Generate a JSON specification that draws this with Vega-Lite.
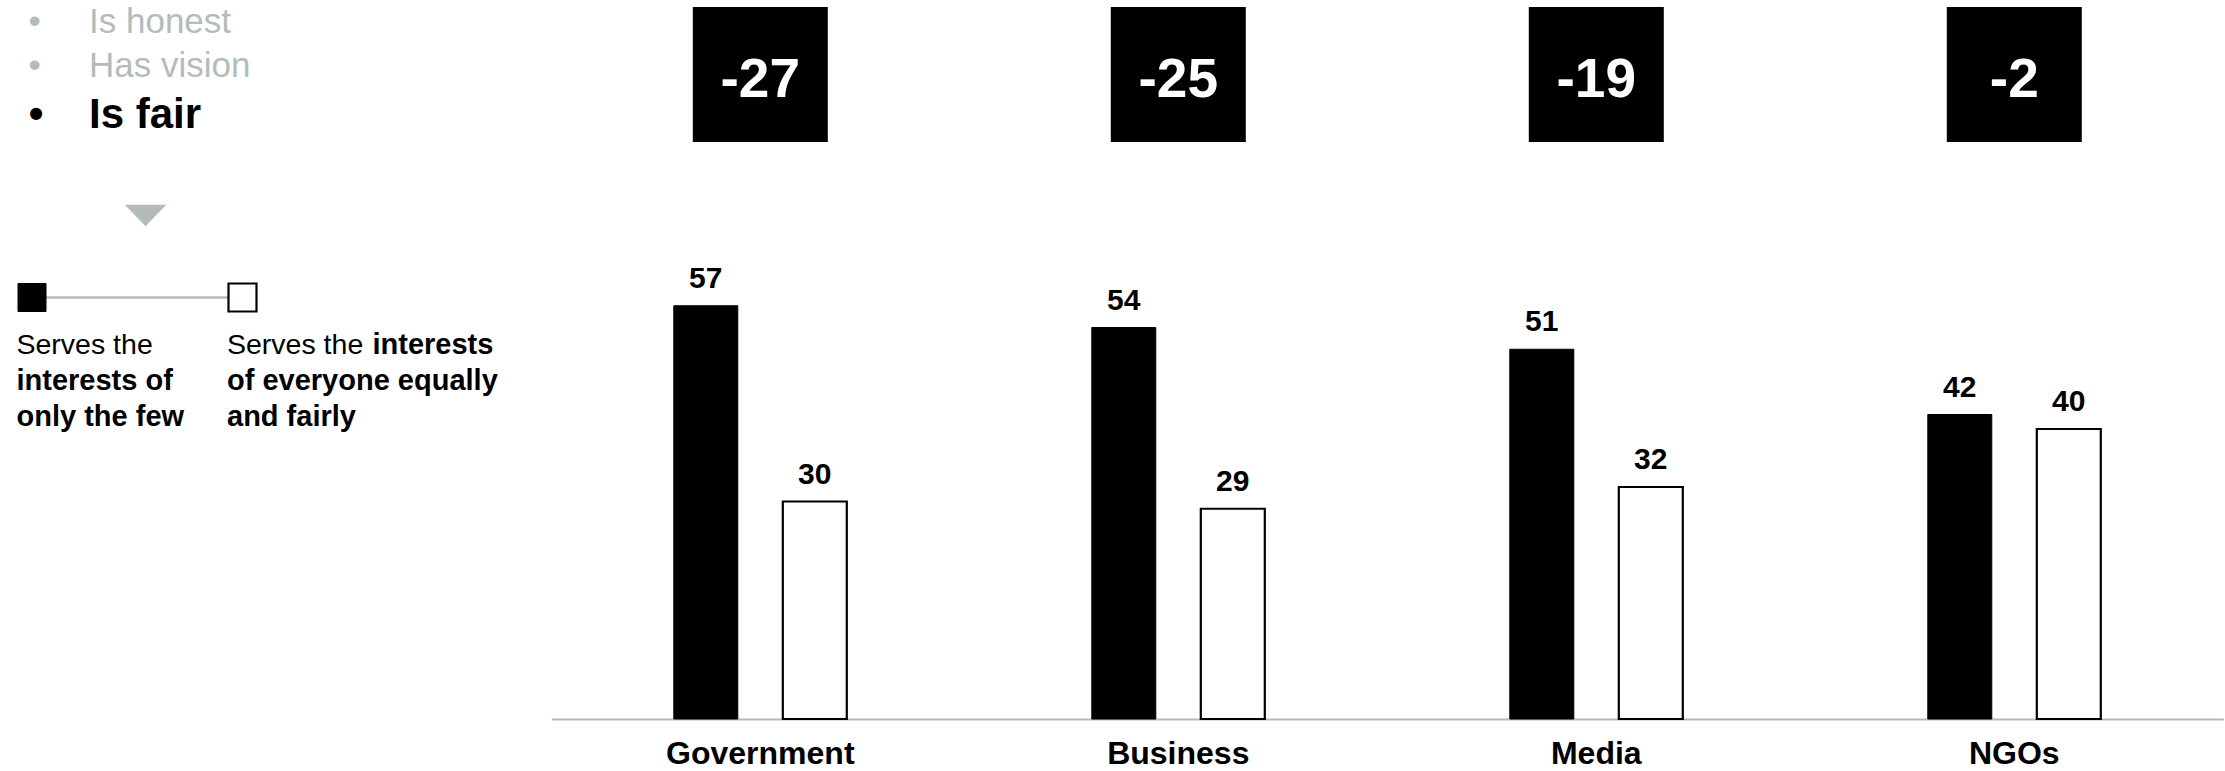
{
  "$schema": "https://vega.github.io/schema/vega-lite/v6.json",
  "padding": {"left": 16, "top": 5, "right": 0, "bottom": 0},
  "bounds": "flush",
  "spacing": 519.3,
  "config": {
    "view": {"stroke": null},
    "font": "Liberation Sans",
    "axis": {"domainColor": "#b4bcbb", "domainWidth": 2, "ticks": false, "tickSize": 0, "labelPadding": 19, "labelFontSize": 32, "labelFontWeight": "bold", "labelColor": "#000000", "labelFont": "Liberation Sans", "labelAngle": 0, "labelLimit": 0, "grid": false, "title": null}
  },
  "datasets": {
    "scores": [
      {"sector": "Government", "type": "few", "value": 57},
      {"sector": "Government", "type": "everyone", "value": 30},
      {"sector": "Business", "type": "few", "value": 54},
      {"sector": "Business", "type": "everyone", "value": 29},
      {"sector": "Media", "type": "few", "value": 51},
      {"sector": "Media", "type": "everyone", "value": 32},
      {"sector": "NGOs", "type": "few", "value": 42},
      {"sector": "NGOs", "type": "everyone", "value": 40}
    ],
    "gaps": [
      {"sector": "Government", "gap": "-27"},
      {"sector": "Business", "gap": "-25"},
      {"sector": "Media", "gap": "-19"},
      {"sector": "NGOs", "gap": "-2"}
    ],
    "traits": [
      {"trait": "Is honest", "focus": false},
      {"trait": "Has vision", "focus": false},
      {"trait": "Is fair", "focus": true}
    ],
    "legend": [
      {"type": "few", "lead": "Serves the", "emph": "", "rest": ["interests of", "only the few"]},
      {"type": "everyone", "lead": "Serves the", "emph": "interests", "rest": ["of everyone equally", "and fairly"]}
    ],
    "marker": [{"marker": "selected"}]
  },
  "hconcat": [
    {
      "bounds": "flush",
      "spacing": 56.5,
      "vconcat": [
        {
          "width": 114,
          "height": 140.5,
          "data": {"name": "traits"},
          "encoding": {
            "y": {"field": "trait", "type": "nominal", "axis": null, "scale": {"type": "point", "domain": ["Is honest", "Has vision", "Is fair"], "padding": 0.588}}
          },
          "layer": [
            {
              "transform": [{"filter": "!datum.focus"}],
              "mark": {"type": "text", "text": "•", "align": "center", "baseline": "alphabetic", "dx": -54.5, "fontSize": 35, "color": "#b4bcbb"}
            },
            {
              "transform": [{"filter": "!datum.focus"}],
              "mark": {"type": "text", "align": "left", "baseline": "alphabetic", "fontSize": 35, "color": "#b4bcbb"},
              "encoding": {"text": {"field": "trait", "type": "nominal"}}
            },
            {
              "transform": [{"filter": "datum.focus"}],
              "mark": {"type": "text", "text": "•", "align": "center", "baseline": "alphabetic", "dx": -53, "dy": 6.5, "fontSize": 42, "fontWeight": "bold", "color": "#000000"}
            },
            {
              "transform": [{"filter": "datum.focus"}],
              "mark": {"type": "text", "align": "left", "baseline": "alphabetic", "dy": 6.5, "fontSize": 42, "fontWeight": "bold", "color": "#000000"},
              "encoding": {"text": {"field": "trait", "type": "nominal"}}
            }
          ]
        },
        {
          "width": 227,
          "height": 22,
          "data": {"name": "marker"},
          "mark": {"type": "point", "shape": "M-1,-0.52L1,-0.52L0,0.52Z", "size": 1722, "filled": true, "fill": "#b4bcbb", "strokeWidth": 0, "opacity": 1},
          "encoding": {}
        },
        {
          "width": 210.5,
          "height": 29,
          "data": {"name": "legend"},
          "encoding": {
            "x": {"field": "type", "type": "nominal", "axis": null, "scale": {"type": "point", "domain": ["few", "everyone"], "padding": 0}}
          },
          "layer": [
            {
              "mark": {"type": "line", "color": "#b4bcbb", "strokeWidth": 2.5}
            },
            {
              "mark": {"type": "point", "shape": "square", "size": 784, "filled": true, "stroke": "#000000", "opacity": 1},
              "encoding": {
                "fill": {"field": "type", "type": "nominal", "scale": {"domain": ["few", "everyone"], "range": ["#000000", "#ffffff"]}, "legend": null},
                "strokeWidth": {"field": "type", "type": "nominal", "scale": {"domain": ["few", "everyone"], "range": [1, 2.2]}, "legend": null}
              }
            },
            {
              "mark": {"type": "text", "align": "left", "baseline": "alphabetic", "dx": -15.5, "dy": 56, "fontSize": 28.5, "color": "#000000"},
              "encoding": {"text": {"field": "lead", "type": "nominal"}}
            },
            {
              "mark": {"type": "text", "align": "left", "baseline": "alphabetic", "dx": -15.5, "dy": 92, "fontSize": 29, "fontWeight": "bold", "lineHeight": 36, "color": "#000000"},
              "encoding": {"text": {"field": "rest", "type": "nominal"}}
            },
            {
              "transform": [{"filter": "datum.emph != ''"}],
              "mark": {"type": "text", "align": "left", "baseline": "alphabetic", "dx": 130, "dy": 56, "fontSize": 29, "fontWeight": "bold", "color": "#000000"},
              "encoding": {"text": {"field": "emph", "type": "nominal"}}
            }
          ]
        }
      ]
    },
    {
      "bounds": "flush",
      "spacing": 113,
      "vconcat": [
        {
          "width": 1672,
          "height": 135,
          "data": {"name": "gaps"},
          "encoding": {
            "x": {"field": "sector", "type": "nominal", "sort": ["Government", "Business", "Media", "NGOs"], "scale": {"paddingInner": 0.0646, "paddingOuter": 0.0323}, "axis": null}
          },
          "layer": [
            {"mark": {"type": "bar", "width": 135, "color": "#000000"}},
            {
              "mark": {"type": "text", "align": "center", "baseline": "middle", "dy": 5, "fontSize": 55, "fontWeight": "bold", "color": "#ffffff"},
              "encoding": {"text": {"field": "gap", "type": "nominal"}}
            }
          ]
        },
        {
          "width": 1672,
          "height": 464,
          "data": {"name": "scores"},
          "encoding": {
            "x": {"field": "sector", "type": "nominal", "sort": ["Government", "Business", "Media", "NGOs"], "scale": {"paddingInner": 0.0646, "paddingOuter": 0.0323}, "axis": {"orient": "bottom"}, "title": null},
            "xOffset": {"field": "type", "type": "nominal", "sort": ["few", "everyone"], "scale": {"domain": ["few", "everyone"], "paddingInner": 0.413, "paddingOuter": 1}},
            "y": {"field": "value", "type": "quantitative", "scale": {"domain": [0, 64], "nice": false}, "axis": null}
          },
          "layer": [
            {
              "mark": {"type": "bar", "stroke": "#000000"},
              "encoding": {
                "fill": {"field": "type", "type": "nominal", "scale": {"domain": ["few", "everyone"], "range": ["#000000", "#ffffff"]}, "legend": null},
                "strokeWidth": {"field": "type", "type": "nominal", "scale": {"domain": ["few", "everyone"], "range": [0, 3]}, "legend": null}
              }
            },
            {
              "mark": {"type": "text", "align": "center", "baseline": "alphabetic", "dy": -18, "fontSize": 30, "fontWeight": "bold", "color": "#000000"},
              "encoding": {"text": {"field": "value", "type": "quantitative"}}
            }
          ]
        }
      ]
    }
  ]
}
